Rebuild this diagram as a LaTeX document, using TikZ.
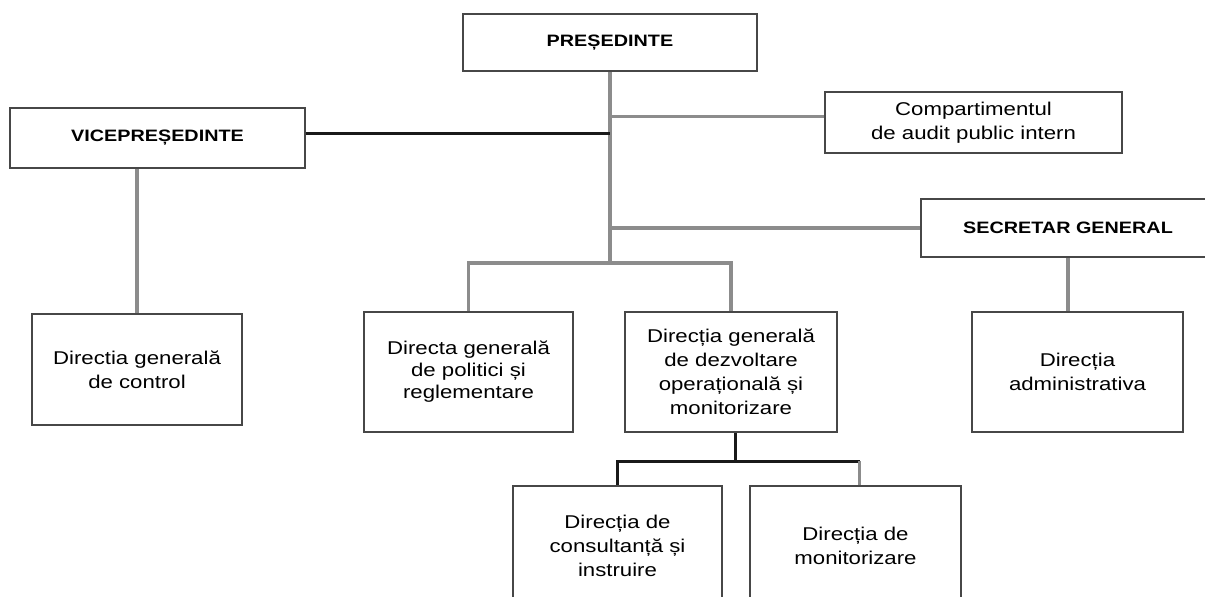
\documentclass[tikz,border=0pt]{standalone}
\usepackage{fontspec}
\newfontfamily\orgfont{Liberation Sans}[FakeStretch=1.2]
\usetikzlibrary{positioning}
\tikzset{
  box/.style={draw=black!72, line width=2pt, fill=white, align=center, inner sep=0pt,
    font=\orgfont\fontsize{18.5}{24}\selectfont},
  head/.style={box, font=\orgfont\bfseries\fontsize{16.5}{19}\selectfont},
  link/.style={draw=black!45, line width=3.5pt},
  blink/.style={draw=black!90, line width=3pt}
}
\begin{document}
\begin{tikzpicture}[x=1pt,y=-1pt]
\useasboundingbox (0,0) rectangle (1205,597);
  \node (A) [head, minimum width=294, minimum height=57] at (610,42.5) {PREȘEDINTE};
  \node (B) [head, minimum width=295, minimum height=60] at (157.5,138) {VICEPREȘEDINTE};
  \node (C) [box, minimum width=297, minimum height=61] at (973.5,122.5) {Compartimentul\\de audit public intern};
  \node (D) [head, minimum width=294, minimum height=58] at (1068,228) {SECRETAR GENERAL};
  \node (E) [box, minimum width=210, minimum height=111] at (137,369.5) {Directia generală\\de control};
  \node (F) [box, minimum width=209, minimum height=120, font=\orgfont\fontsize{18.5}{22}\selectfont] at (468.5,372) {Directa generală\\de politici și\\reglementare};
  \node (G) [box, minimum width=212, minimum height=120] at (731,372) {Direcția generală\\de dezvoltare\\operațională și\\monitorizare};
  \node (H) [box, minimum width=211, minimum height=120] at (1077.5,372) {Direcția\\administrativa};
  \node (I) [box, minimum width=209, minimum height=120] at (617.5,546) {Direcția de\\consultanță și\\instruire};
  \node (J) [box, minimum width=211, minimum height=120] at (855.5,546) {Direcția de\\monitorizare};
  \coordinate (bar) at (610,263);
  \coordinate (sub) at (735,461);
\draw[link] (A.south) -- (bar);
\draw[link] ([yshift=6pt]C.west) -- ([yshift=6pt]C.west -| A.south);
\draw[blink] ([yshift=5pt]B.east) -- ([yshift=5pt]B.east -| A.south);
\draw[link] (D.west) -- (D.west -| A.south);
\draw[link] (F.north) |- (bar) -| (G.north);
\draw[link] (E.north) -- (E.north |- B.south);
\draw[link] (D.south) -- (D.south |- H.north);
\draw[blink] (G.south -| sub) -- (sub);
\draw[blink] (I.north) |- (sub) -- ([xshift=4pt]sub -| J.north);
\draw[link] ([xshift=4pt]sub -| J.north) -- ([xshift=4pt]J.north);
\end{tikzpicture}
\end{document}
